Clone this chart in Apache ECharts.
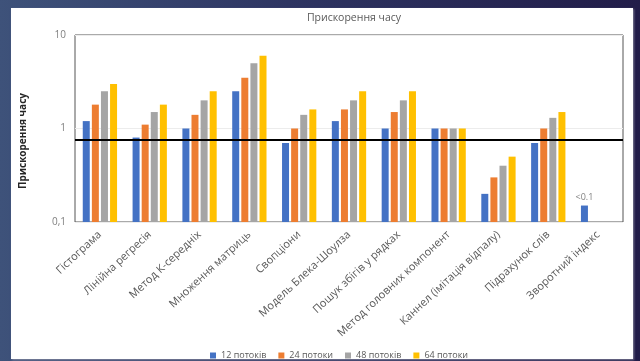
<!DOCTYPE html>
<html><head><meta charset="utf-8">
<script src="https://cdn.jsdelivr.net/npm/echarts@6/dist/echarts.min.js"></script>
<style>
html,body{margin:0;padding:0;width:640px;height:361px;overflow:hidden;}
body{background:linear-gradient(90deg,#3e527a 0%,#2e3562 45%,#221d49 100%);}
#card{position:absolute;left:11px;top:8px;width:622px;height:351px;background:#fff;box-shadow:1px 1px 2px rgba(150,150,170,0.8);}
#chart{position:absolute;left:0;top:0;width:640px;height:361px;}
</style></head>
<body><div id="card"></div><div id="chart"></div>
<script>
const categories = ["Гістограма","Лінійна регресія","Метод К-середніх","Множення матриць","Свопціони","Модель Блека-Шоулза","Пошук збігів у рядках","Метод головних компонент","Каннел (імітація відпалу)","Підрахунок слів","Зворотний індекс"];
const seriesNames = ["12 потоків","24 потоки","48 потоків","64 потоки"];
const threads12 = [1.2,0.8,1.0,2.5,0.7,1.2,1.0,1.0,0.2,0.7,0.15];
const threads24 = [1.8,1.1,1.4,3.5,1.0,1.6,1.5,1.0,0.3,1.0,null];
const threads48 = [2.5,1.5,2.0,5.0,1.4,2.0,2.0,1.0,0.4,1.3,null];
const threads64 = [3.0,1.8,2.5,6.0,1.6,2.5,2.5,1.0,0.5,1.5,null];
const referenceLine = 0.75;
const yMin = 0.1, yMax = 10;
const noteLabel = "<0.1";

// Logarithmic scale measured from the axis floor (so bars rise from 0,1)
const toAxis = v => v == null ? null : Math.log10(v / yMin);
const fromAxis = a => yMin * Math.pow(10, a);

const colors = ["#4472C4","#ED7D31","#A5A5A5","#FFC000"];
const allData = [threads12,threads24,threads48,threads64];

const series = allData.map((d,i)=>({
  name: seriesNames[i], type:'bar', barWidth:7, barGap:'30%',
  itemStyle:{color:colors[i]},
  data: d.map((v,j)=>{
    const a = toAxis(v);
    if(i===0 && j===categories.length-1){
      return {value:a,label:{show:true,position:'top',distance:4,formatter:noteLabel,color:'#7f7f7f',fontSize:9,fontFamily:'Open Sans'}};
    }
    return a;
  }),
  markLine: i===0 ? {silent:true,symbol:['none','none'],label:{show:false},
    lineStyle:{color:'#000',width:2,type:'solid'},data:[{yAxis:toAxis(referenceLine)}]} : undefined
}));

const chart = echarts.init(document.getElementById('chart'));
chart.setOption({
  animation:false,
  backgroundColor:'transparent',
  textStyle:{fontFamily:'Open Sans'},
  title:{text:'Прискорення часу',left:349,top:8,textAlign:'center',
    textStyle:{color:'#595959',fontSize:10.5,fontWeight:'normal',fontFamily:'Open Sans'}},
  grid:{left:75,top:35,right:17,bottom:139,show:true,borderColor:'#555',borderWidth:1},
  legend:{left:205,top:346,itemWidth:6,itemHeight:6,icon:'rect',itemGap:12,
    textStyle:{color:'#595959',fontSize:9,fontFamily:'Open Sans'},data:seriesNames},
  xAxis:{type:'category',data:categories,
    axisLine:{show:false},axisTick:{show:false},
    axisLabel:{interval:0,rotate:43,color:'#595959',fontSize:11,margin:11,fontFamily:'Open Sans'}},
  yAxis:{type:'value',min:toAxis(yMin),max:toAxis(yMax),interval:1,
    axisLine:{show:false},axisTick:{show:false},
    splitLine:{lineStyle:{color:'#ececec'}},
    axisLabel:{color:'#7f7f7f',fontSize:10,margin:9,fontFamily:'Open Sans',
      formatter:a=>String(+fromAxis(a).toPrecision(6)).replace('.',',')}},
  graphic:[{type:'text',x:23,y:141,rotation:Math.PI/2,
    style:{text:'Прискорення часу',fill:'#262626',fontSize:10,fontWeight:'bold',fontFamily:'Open Sans',textAlign:'center',textVerticalAlign:'middle'}}],
  series:series
});
</script></body></html>
